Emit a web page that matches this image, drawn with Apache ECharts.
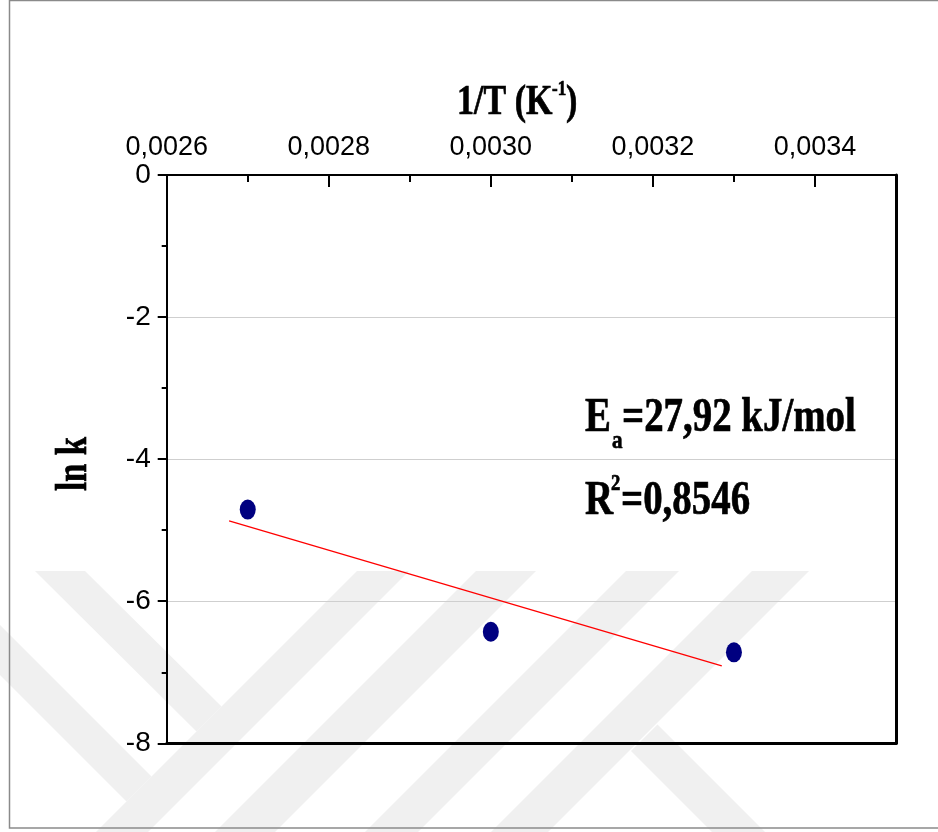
<!DOCTYPE html>
<html>
<head>
<meta charset="utf-8">
<script src="https://cdn.jsdelivr.net/npm/echarts@6/dist/echarts.min.js"></script>
<style>
  html, body { margin: 0; padding: 0; background: #fff; }
  #chart { width: 938px; height: 832px; }
</style>
</head>
<body>
<div id="chart"></div>
<script>
// Arrhenius plot: ln k against 1/T
const invT = [0.0027, 0.0030, 0.0033];
const lnK = [-4.71, -6.43, -6.72];

// least-squares line, drawn between its two end points
const fitInvT = [0.002677, 0.003285];
const fitLnK = [-4.87, -6.91];

// axis ranges
const xRange = [0.0026, 0.0035];
const xStep = 0.0002;
const yRange = [-8, 0];
const yStep = 2;

const tickFont = '"Liberation Sans Narrow", "Liberation Sans", Arial, sans-serif';
const serif = '"Liberation Serif", "Times New Roman", serif';

const chart = echarts.init(document.getElementById('chart'), null, { renderer: 'canvas' });

// faint diagonal-band backdrop
const bandFill = '#f0f0f0';
function slashBand(s1, s2, top, bottom) {
  return [[s1 - top, top], [s2 - top, top], [s2 - bottom, bottom], [s1 - bottom, bottom]];
}
const backdrop = [
  slashBand(928, 980, 571, 832),
  slashBand(1047, 1107, 571, 832),
  slashBand(1197, 1250, 571, 832),
  slashBand(1323, 1380, 571, 832),
  [[35, 571], [85, 571], [221.5, 706.5], [196.5, 731.5]],
  [[0, 625], [151.5, 776.5], [126.5, 801.5], [0, 675]],
  [[657.5, 724.5], [765, 832], [712, 832], [631, 751]]
].map(pts => ({
  type: 'polygon', z: -10, silent: true,
  shape: { points: pts },
  style: { fill: bandFill }
}));

function label(text, x, y, size, extra) {
  return Object.assign({
    type: 'text', x: x, y: y, z: 100, scaleX: 0.81, silent: true,
    style: {
      text: text, fill: '#000', stroke: '#000', lineWidth: 0.7,
      font: 'bold ' + size + 'px ' + serif,
      align: 'left', verticalAlign: 'middle'
    }
  }, extra || {});
}

const option = {
  backgroundColor: '#fff',
  animation: false,
  grid: { left: 166.7, top: 175, width: 729.3, height: 568.3, containLabel: false },
  xAxis: [
    {
      type: 'value', position: 'top',
      min: xRange[0], max: xRange[1], interval: xStep,
      axisLine: { show: true, onZero: false, lineStyle: { color: '#000', width: 2 } },
      axisTick: { show: true, inside: true, length: 12, lineStyle: { color: '#000', width: 2 } },
      minorTick: { show: true, splitNumber: 2, length: 7, lineStyle: { color: '#000', width: 2 } },
      axisLabel: {
        show: true, color: '#000', fontFamily: tickFont, fontSize: 27, margin: 14,
        showMinLabel: true, showMaxLabel: false,
        formatter: v => (Math.abs(v - xRange[1]) < 1e-9 ? '' : v.toFixed(4).replace('.', ','))
      },
      splitLine: { show: false }
    },
    {
      type: 'value', position: 'bottom',
      min: xRange[0], max: xRange[1],
      axisLine: { show: true, onZero: false, lineStyle: { color: '#000', width: 3 } },
      axisTick: { show: false }, axisLabel: { show: false }, splitLine: { show: false }
    }
  ],
  yAxis: [
    {
      type: 'value', position: 'left',
      min: yRange[0], max: yRange[1], interval: yStep,
      axisLine: { show: true, onZero: false, lineStyle: { color: '#000', width: 2 } },
      axisTick: { show: true, inside: false, length: 9, lineStyle: { color: '#000', width: 2 } },
      minorTick: { show: true, splitNumber: 2, length: 5, lineStyle: { color: '#000', width: 2 } },
      axisLabel: { color: '#000', fontFamily: tickFont, fontSize: 28, margin: 16 },
      splitLine: { show: true, lineStyle: { color: '#cfcfcf', width: 1.2 } }
    },
    {
      type: 'value', position: 'right',
      min: yRange[0], max: yRange[1],
      axisLine: { show: true, onZero: false, lineStyle: { color: '#000', width: 3 } },
      axisTick: { show: false }, axisLabel: { show: false }, splitLine: { show: false }
    }
  ],
  series: [
    {
      name: 'fit', type: 'line', xAxisIndex: 0, yAxisIndex: 0,
      data: fitInvT.map((x, i) => [x, fitLnK[i]]),
      symbol: 'none', silent: true,
      lineStyle: { color: '#ff0000', width: 1.3 },
      z: 3
    },
    {
      name: 'ln k', type: 'scatter', xAxisIndex: 0, yAxisIndex: 0,
      data: invT.map((x, i) => [x, lnK[i]]),
      symbol: 'circle', symbolSize: [16, 20],
      itemStyle: { color: '#000080', opacity: 1 },
      z: 4
    }
  ],
  graphic: [
    // outer frame
    {
      type: 'rect', z: -9, silent: true,
      shape: { x: 9.5, y: 0.5, width: 1000, height: 827.5 },
      style: { fill: null, stroke: '#8a8a8a', lineWidth: 1.5 }
    },
    ...backdrop,
    // axis titles
    label('1/T (K', 457, 102.8, 42),
    label('-1', 552, 89.5, 21),
    label(')', 566, 102.8, 42),
    {
      type: 'text', x: 75, y: 464, z: 100, rotation: Math.PI / 2,
      scaleX: 0.75, scaleY: 1, silent: true,
      style: {
        text: 'ln k', fill: '#000', stroke: '#000', lineWidth: 0.7,
        font: 'bold 44px ' + serif,
        align: 'center', verticalAlign: 'middle'
      }
    },
    // activation energy and goodness of fit
    label('E', 585, 418.8, 48),
    label('a', 612, 441.2, 26),
    label('=27,92 kJ/mol', 622, 418.8, 48),
    label('R', 585, 501.8, 48),
    label('2', 611, 484, 23),
    label('=0,8546', 621, 501.8, 48)
  ]
};

chart.setOption(option);
</script>
</body>
</html>
